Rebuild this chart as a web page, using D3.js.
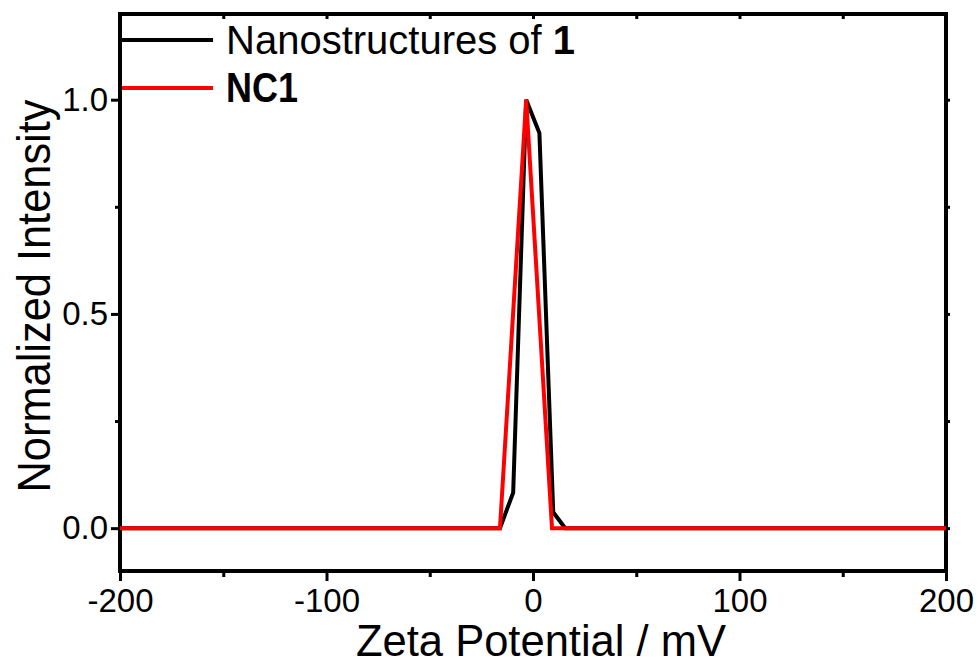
<!DOCTYPE html>
<html>
<head>
<meta charset="utf-8">
<script src="https://cdn.jsdelivr.net/npm/d3@7"></script>
<style>
  body { margin: 0; background: #fff; }
  svg text { font-family: "Liberation Sans", Arial, sans-serif; fill: #000; }
</style>
</head>
<body>
<svg id="chart" width="979" height="666"></svg>
<script>
// zeta potential distributions
var nanoX = [-200, -16.0, -9.6, -3.3, 3.1, 9.8, 15.6, 200];
var nanoY = [0, 0, 0.083, 1.0, 0.922, 0.037, 0, 0];
var nc1X = [-200, -16.0, -3.3, 9.2, 200];
var nc1Y = [0, 0, 1.0, 0, 0];

var xMajor = [-200, -100, 0, 100, 200];
var xMinor = [-150, -50, 50, 150];
var yMajor = [0, 0.5, 1.0];
var yMinor = [0.25, 0.75];

var seriesNames = ["Nanostructures of ", "NC1"];

var svg = d3.select("#chart");
var mLeft = 120, mRight = 946, mTop = 14, mBottom = 571;

var x = d3.scaleLinear().domain([-200, 200]).range([mLeft, mRight]);
var y = d3.scaleLinear().domain([-0.1, 1.2]).range([mBottom, mTop]);

// frame
svg.append("rect")
    .attr("x", mLeft).attr("y", mTop)
    .attr("width", mRight - mLeft).attr("height", mBottom - mTop)
    .attr("fill", "none").attr("stroke", "#000").attr("stroke-width", 4);

function styleAxis(g) {
    g.select(".domain").remove();
    g.selectAll(".tick line").attr("stroke", "#000").attr("stroke-width", 3);
    g.selectAll(".tick text").style("font-size", "33px").attr("fill", "#000");
}

// bottom axis
svg.append("g").attr("transform", "translate(0," + mBottom + ")")
    .call(d3.axisBottom(x).tickValues(xMajor).tickSize(10).tickPadding(8).tickFormat(function(d) { return String(d); }))
    .call(styleAxis);
svg.append("g").attr("transform", "translate(0," + mBottom + ")")
    .call(d3.axisBottom(x).tickValues(xMinor).tickSize(6).tickFormat(""))
    .call(styleAxis);
// top axis, inward ticks
svg.append("g").attr("transform", "translate(0," + mTop + ")")
    .call(d3.axisBottom(x).tickValues(xMajor.concat(xMinor)).tickSize(5).tickFormat(""))
    .call(styleAxis);

// left axis
svg.append("g").attr("transform", "translate(" + mLeft + ",0)")
    .call(d3.axisLeft(y).tickValues(yMajor).tickSize(9).tickPadding(3).tickFormat(function(d) { return d.toFixed(1); }))
    .call(styleAxis);
svg.append("g").attr("transform", "translate(" + mLeft + ",0)")
    .call(d3.axisLeft(y).tickValues(yMinor).tickSize(5).tickFormat(""))
    .call(styleAxis);
// right axis
svg.append("g").attr("transform", "translate(" + mRight + ",0)")
    .call(d3.axisRight(y).tickValues(yMajor.concat(yMinor)).tickSize(4).tickFormat(""))
    .call(styleAxis);

// axis titles (condensed in the original)
svg.append("text")
    .attr("x", 541)
    .attr("y", 656)
    .attr("text-anchor", "middle")
    .attr("textLength", 370)
    .attr("lengthAdjust", "spacingAndGlyphs")
    .style("font-size", "44px")
    .text("Zeta Potential / mV");

svg.append("text")
    .attr("transform", "translate(50,296) rotate(-90)")
    .attr("text-anchor", "middle")
    .attr("textLength", 393)
    .attr("lengthAdjust", "spacingAndGlyphs")
    .style("font-size", "47px")
    .text("Normalized Intensity");

// data lines
var line = d3.line().x(function(d) { return x(d[0]); }).y(function(d) { return y(d[1]); });

svg.append("path")
    .datum(d3.zip(nanoX, nanoY))
    .attr("d", line)
    .attr("fill", "none").attr("stroke", "#000").attr("stroke-width", 4)
    .attr("stroke-linejoin", "miter");

svg.append("path")
    .datum(d3.zip(nc1X, nc1Y))
    .attr("d", line)
    .attr("fill", "none").attr("stroke", "#ff0000").attr("stroke-width", 4)
    .attr("stroke-linejoin", "miter");

// legend
var leg = svg.append("g");
leg.append("line").attr("x1", 122).attr("x2", 213).attr("y1", 40).attr("y2", 40)
    .attr("stroke", "#000").attr("stroke-width", 4);
var t1 = leg.append("text").attr("x", 226).attr("y", 54).style("font-size", "40px");
t1.append("tspan").text(seriesNames[0]);
t1.append("tspan").style("font-weight", "bold").text("1");

leg.append("line").attr("x1", 122).attr("x2", 213).attr("y1", 88).attr("y2", 88)
    .attr("stroke", "#ff0000").attr("stroke-width", 4);
leg.append("text").attr("x", 226).attr("y", 102).style("font-size", "42px")
    .attr("textLength", 72).attr("lengthAdjust", "spacingAndGlyphs")
    .style("font-weight", "bold").text(seriesNames[1]);
</script>
</body>
</html>
